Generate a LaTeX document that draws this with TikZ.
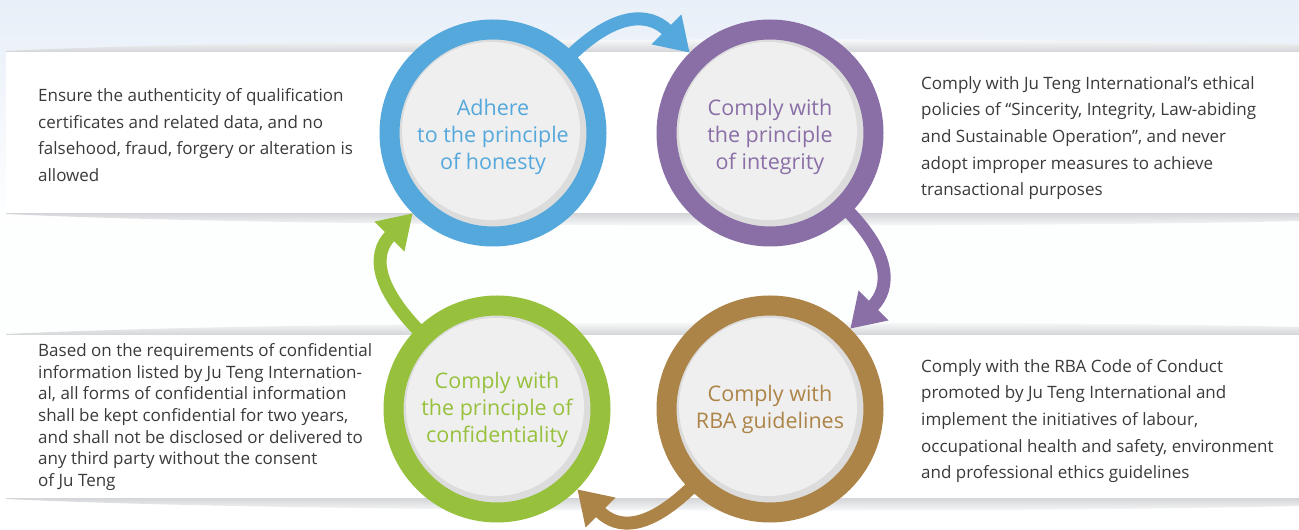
\documentclass[tikz,border=0pt]{standalone}
\usepackage{fontspec}
\setmainfont{Open Sans}
\usetikzlibrary{arrows.meta,calc}
\definecolor{blueC}{HTML}{55A8DC}
\definecolor{purpleC}{HTML}{8A6FA7}
\definecolor{greenC}{HTML}{97C13C}
\definecolor{brownC}{HTML}{AD8447}
\definecolor{diskC}{HTML}{EFEFEF}
\definecolor{rimC}{HTML}{DCDCDC}
\definecolor{txtC}{HTML}{3A3A3A}
\definecolor{bgTop}{HTML}{E8EFF8}
\definecolor{shadC}{HTML}{D3D5D8}
\tikzset{
  ring/.style={circle, minimum size=207pt, inner sep=0pt, line width=20pt, draw=#1, fill=rimC,
    path picture={\fill[diskC] ([xshift=-2pt,yshift=2pt]path picture bounding box.center) circle (89pt);}},
  ctext/.style={text=#1, align=center, inner sep=0pt, font=\fontsize{21.5}{27}\selectfont},
  arr/.style={line width=13pt, draw=#1, shorten <=-8pt, -{Triangle[width=40pt,length=33pt]}},
  body/.style={anchor=west, align=left, inner sep=0pt, text=txtC, font=\fontsize{17}{26.6}\selectfont},
  bodytight/.style={body, font=\fontsize{17}{21.7}\selectfont}
}
\newcommand{\band}[2]{%
  \shade[top color=white, bottom color=shadC] (6,#1+1) .. controls (300,#1+15) and (1000,#1+15) .. (1299,#1+8) -- (1299,#1) -- (6,#1) -- cycle;
  \shade[top color=shadC, bottom color=white] (6,#2-1) .. controls (300,#2-15) and (1000,#2-15) .. (1299,#2-8) -- (1299,#2) -- (6,#2) -- cycle;
  \fill[white] (6,#2) rectangle (1299,#1);
}
\begin{document}
\begin{tikzpicture}[x=1pt,y=1pt]
\useasboundingbox (0,0) rectangle (1299,530);
\shade[top color=bgTop, bottom color=white] (0,300) rectangle (1299,530);
\fill[white] (0,0) rectangle (1299,300);
\fill[white!92!bgTop] (0,305) rectangle (1299,195);
\band{478}{317}
\band{195}{32}
% circles
\node[ring=blueC] (honesty) at (493,397) {};
\node[ring=purpleC] (integrity) at (770,397) {};
\node[ring=greenC] (conf) at (497,121) {};
\node[ring=brownC] (rba) at (770,121) {};
\node[ctext=blueC] (honestyT) at ([yshift=-4pt]honesty.center) {Adhere\\to the principle\\of honesty};
\node[ctext=purpleC] (integrityT) at ([yshift=-4pt]integrity.center) {Comply with\\the principle\\of integrity};
\node[ctext=greenC] (confT) at ([yshift=-1pt]conf.center) {Comply with\\the principle of\\confidentiality};
\node[ctext=brownC] (rbaT) at ([yshift=0pt]rba.center) {Comply with\\RBA guidelines};
% arrows
\draw[arr=blueC] (honesty.45) .. controls +(45:58) and +(135:58) .. (integrity.135);
\draw[arr=purpleC] (integrity.-45) .. controls +(-45:58) and +(45:58) .. (rba.45);
\draw[arr=brownC] (rba.-135) .. controls +(-135:58) and +(-45:58) .. (conf.-45);
\draw[arr=greenC] (conf.135) .. controls +(135:58) and +(-135:58) .. (honesty.-135);
% texts
\node[body] (t1) at (38,395) {Ensure the authenticity of qualification\\certificates and related data, and no\\falsehood, fraud, forgery or alteration is\\allowed};
\node[body] (t2) at (921,392) {Comply with Ju Teng International’s ethical\\policies of “Sincerity, Integrity, Law-abiding\\and Sustainable Operation”, and never\\adopt improper measures to achieve\\transactional purposes};
\node[bodytight] (t3) at (38,113) {Based on the requirements of confidential\\information listed by Ju Teng Internation-\\al, all forms of confidential information\\shall be kept confidential for two years,\\and shall not be disclosed or delivered to\\any third party without the consent\\of Ju Teng};
\node[body] (t4) at (921,109) {Comply with the RBA Code of Conduct\\promoted by Ju Teng International and\\implement the initiatives of labour,\\occupational health and safety, environment\\and professional ethics guidelines};
\end{tikzpicture}
\end{document}
